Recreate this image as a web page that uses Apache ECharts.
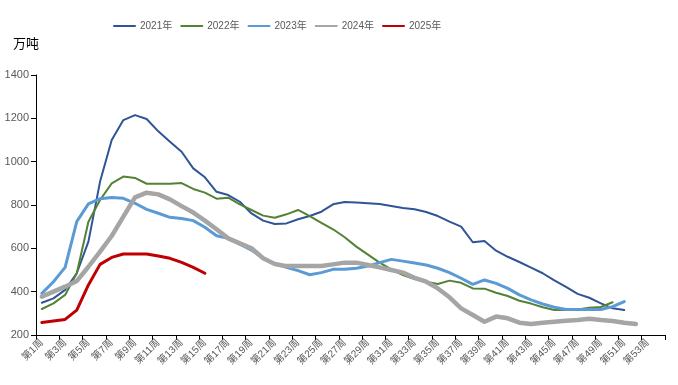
<!DOCTYPE html>
<html>
<head>
<meta charset="utf-8">
<script src="https://cdn.jsdelivr.net/npm/echarts@6/dist/echarts.min.js"></script>
<style>html,body{margin:0;padding:0;background:#fff}#c{width:678px;height:385px}</style>
</head>
<body>
<div id="c"></div>
<script>
var weeks = ['第1周','第2周','第3周','第4周','第5周','第6周','第7周','第8周','第9周','第10周',
'第11周','第12周','第13周','第14周','第15周','第16周','第17周','第18周','第19周','第20周',
'第21周','第22周','第23周','第24周','第25周','第26周','第27周','第28周','第29周','第30周',
'第31周','第32周','第33周','第34周','第35周','第36周','第37周','第38周','第39周','第40周',
'第41周','第42周','第43周','第44周','第45周','第46周','第47周','第48周','第49周','第50周',
'第51周','第52周','第53周','第54周'];
var seriesNames = ['2021年','2022年','2023年','2024年','2025年'];
var yTicks = [200, 1400, 200];
var y2021 = [349,369,408,485,631,908,1100,1192,1215,1197,1140,1092,1046,969,928,861,846,815,761,728,712,715,734,749,769,803,814,811,808,805,795,786,780,768,749,723,700,628,634,589,561,537,511,485,452,422,390,372,346,323,315];
var y2022 = [320,346,385,485,723,823,900,931,925,898,898,898,901,874,857,829,834,803,777,751,741,757,777,749,718,688,651,608,571,534,503,477,458,446,435,451,441,415,414,395,380,358,345,328,315,315,318,326,329,351];
var y2023 = [392,446,512,723,805,829,835,831,808,780,762,743,738,728,697,658,646,619,592,554,528,512,497,478,488,503,503,508,518,534,549,541,532,523,508,488,462,434,454,438,415,385,362,343,328,318,318,318,318,331,354];
var y2024 = [377,400,423,449,515,585,657,746,835,857,849,826,795,765,728,688,646,623,600,554,528,518,518,518,518,526,534,534,523,512,500,488,464,446,415,374,323,292,261,285,277,257,251,257,261,266,269,275,269,265,257,251];
var y2025 = [258,265,272,315,431,526,558,574,574,574,565,554,535,512,485];

var colors = ['#2F5597','#548235','#5B9BD5','#A5A5A5','#C00000'];
var widths = [2,2,3,4.5,3];
var datas = [y2021,y2022,y2023,y2024,y2025];

var chart = echarts.init(document.getElementById('c'), null, {renderer:'canvas'});
chart.setOption({
  animation:false,
  backgroundColor:'#fff',
  graphic:[{type:'text', left:13, top:37, style:{text:'万吨', fill:'#000', font:'13px "Noto Sans CJK SC"'}}],
  legend:{
    left:108, top:16, itemWidth:21, itemHeight:2, itemGap:8,
    itemStyle:{opacity:0},
    textStyle:{color:'#595959', fontSize:10, fontFamily:'Liberation Sans, "Noto Sans CJK SC"'},
    data:seriesNames
  },
  grid:{left:36, right:13, top:75, bottom:50, containLabel:false},
  xAxis:{
    type:'category', data:weeks, boundaryGap:true,
    axisLine:{lineStyle:{color:'#000', width:1}},
    axisTick:{show:true, length:5, lineStyle:{color:'#000'}},
    axisLabel:{interval:1, rotate:45, color:'#595959', fontSize:10, margin:6, fontFamily:'Liberation Sans, "Noto Sans CJK SC"'}
  },
  yAxis:{
    type:'value', min:yTicks[0], max:yTicks[1], interval:yTicks[2],
    axisLine:{show:true, lineStyle:{color:'#000', width:1}},
    axisTick:{show:true, length:5, lineStyle:{color:'#000'}},
    splitLine:{show:false},
    axisLabel:{color:'#595959', fontSize:11, margin:7, fontFamily:'Liberation Sans', formatter:function(v){return String(v);}}
  },
  series: seriesNames.map(function(n,i){
    return {name:n, type:'line', data:datas[i], symbol:'none', smooth:false,
      lineStyle:{color:colors[i], width:widths[i], cap:'round', join:'round'},
      itemStyle:{color:colors[i]}};
  })
});
</script>
</body>
</html>
